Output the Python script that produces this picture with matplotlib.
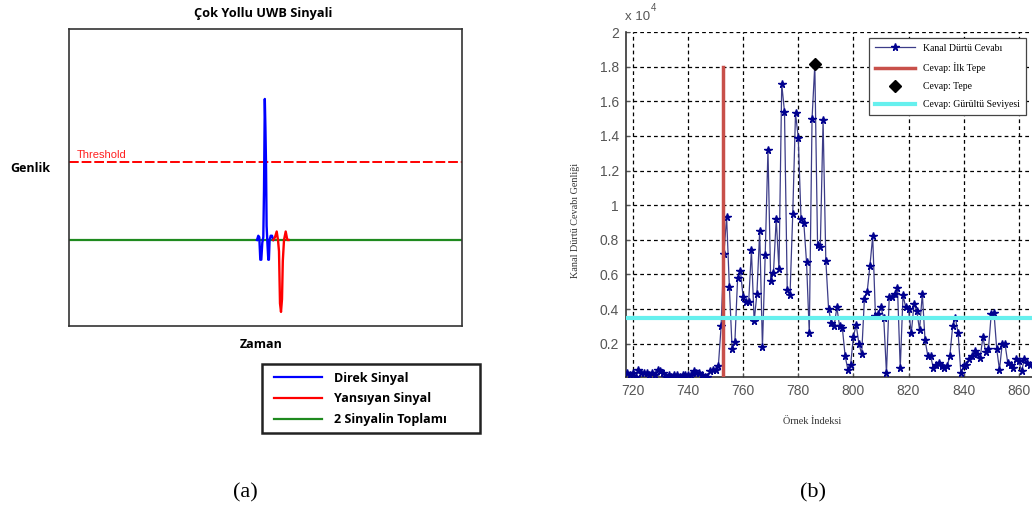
import numpy as np
import matplotlib
matplotlib.use("Agg")
import matplotlib.pyplot as plt
from matplotlib.lines import Line2D
from matplotlib.patches import Rectangle

# ---------------- Panel (a) data ----------------
title_a = "Çok Yollu UWB Sinyali"
blue_t = [188.0, 189.3, 190.3, 191.3, 192.3, 193.3, 194.3, 195.0, 195.8, 196.4,
          197.0, 197.6, 198.4, 199.3, 199.9, 200.6, 201.7, 203.0, 204.3]
blue_a = [0.0, 0.03, 0.02, -0.14, -0.14, -0.02, 0.02, 0.35, 1.0, 0.80,
          0.55, 0.10, -0.02, -0.14, -0.14, 0.0, 0.03, 0.03, 0.0]
red_t = [204.3, 206.0, 207.7, 209.0, 210.0, 211.0, 212.0, 213.0, 213.8, 215.0,
         216.7, 218.3, 219.5]
red_a = [0.0, 0.02, 0.06, 0.0, -0.08, -0.45, -0.51, -0.42, -0.15, 0.0,
         0.06, 0.0, 0.0]
green_t = [0.0, 393.0]
green_a = [0.0, 0.0]
threshold = 0.55
legend_a = ["Direk Sinyal", "Yansıyan Sinyal", "2 Sinyalin Toplamı"]

# ---------------- Panel (b) data ----------------
sample_idx = np.arange(718, 865)
impulse = [0.03, 0.02, 0.03, 0.01, 0.05, 0.03, 0.03, 0.03, 0.02, 0.03,
           0.02, 0.05, 0.04, 0.03, 0.01, 0.02, 0.01, 0.02, 0.02, 0.01,
           0.02, 0.02, 0.02, 0.02, 0.04, 0.03, 0.03, 0.02, 0.01, 0.01,
           0.04, 0.05, 0.05, 0.07, 0.30, 0.72, 0.93, 0.53, 0.17, 0.21,
           0.58, 0.62, 0.47, 0.44, 0.44, 0.74, 0.33, 0.49, 0.85, 0.18,
           0.71, 1.32, 0.56, 0.61, 0.92, 0.63, 1.70, 1.54, 0.51, 0.48,
           0.95, 1.53, 1.39, 0.92, 0.90, 0.67, 0.26, 1.50, 1.81, 0.77,
           0.76, 1.49, 0.68, 0.40, 0.32, 0.30, 0.41, 0.30, 0.29, 0.13,
           0.05, 0.08, 0.24, 0.31, 0.20, 0.14, 0.46, 0.50, 0.65, 0.82,
           0.36, 0.37, 0.41, 0.35, 0.03, 0.47, 0.47, 0.49, 0.52, 0.06,
           0.48, 0.41, 0.40, 0.26, 0.43, 0.39, 0.28, 0.49, 0.22, 0.13,
           0.13, 0.06, 0.08, 0.09, 0.07, 0.06, 0.07, 0.13, 0.30, 0.35,
           0.26, 0.03, 0.07, 0.08, 0.11, 0.13, 0.16, 0.14, 0.12, 0.24,
           0.15, 0.17, 0.37, 0.38, 0.17, 0.05, 0.20, 0.20, 0.09, 0.08,
           0.06, 0.11, 0.10, 0.04, 0.11, 0.09, 0.08]
first_peak_x = 752.7
first_peak_top = 1.8
peak_x = 786
peak_y = 1.815
noise_level = 0.35
x_ticks_b = [720, 740, 760, 780, 800, 820, 840, 860]
y_ticks_b = [0.2, 0.4, 0.6, 0.8, 1.0, 1.2, 1.4, 1.6, 1.8, 2.0]
y_ticklabels_b = ["0.2", "0.4", "0.6", "0.8", "1", "1.2", "1.4", "1.6", "1.8", "2"]
legend_b = ["Kanal Dürtü Cevabı", "Cevap: İlk Tepe", "Cevap: Tepe", "Cevap: Gürültü Seviyesi"]

W, H = 1032, 518
fig = plt.figure(figsize=(W / 100, H / 100), dpi=100)
fig.patch.set_facecolor("white")

def fx(px):
    return px / W

def fy(py):
    return 1 - py / H

sans_b = ["Open Sans", "DejaVu Sans"]
serif = ["Liberation Serif", "DejaVu Serif"]

# ---------------- Panel (a) ----------------
ax_a = fig.add_axes([fx(69), fy(326), 393 / W, 297 / H])
ax_a.plot(green_t, green_a, color="#1f8a1f", lw=1.6, zorder=2)
ax_a.plot(blue_t, blue_a, color="#0000ff", lw=1.7, zorder=3)
ax_a.plot(red_t, red_a, color="#ff0000", lw=1.7, zorder=3)
ax_a.axhline(threshold, color="#ff0000", lw=1.4, ls=(0, (5, 1.5)), zorder=2)
ax_a.text(8, threshold + 0.015, "Threshold", color="#ff2020", fontsize=8,
          family=["Liberation Sans", "DejaVu Sans"], va="bottom", ha="left")
ax_a.set_xlim(0, 393)
ax_a.set_ylim(-0.61, 1.496)
ax_a.set_xticks([])
ax_a.set_yticks([])
for s in ax_a.spines.values():
    s.set_color("#333333")
    s.set_linewidth(1.2)

fig.text(fx(263), fy(14), title_a, ha="center", va="center", fontsize=9.2,
         fontweight="bold", family=sans_b)
fig.text(fx(10), fy(168), "Genlik", ha="left", va="center", fontsize=9,
         fontweight="bold", family=sans_b)
fig.text(fx(261), fy(344), "Zaman", ha="center", va="center", fontsize=9,
         fontweight="bold", family=sans_b)

# legend (a)
fig.patches.append(Rectangle((fx(262), fy(433)), 218 / W, 69 / H,
                             transform=fig.transFigure, fill=True,
                             facecolor="white", edgecolor="#222222", lw=1.8))
handles_a = [Line2D([], [], color="#0000ff", lw=1.6),
             Line2D([], [], color="#ff0000", lw=1.6),
             Line2D([], [], color="#1f8a1f", lw=1.6)]
leg_a = fig.legend(handles_a, legend_a, loc="upper left",
                   bbox_to_anchor=(fx(263), fy(361)), frameon=False,
                   prop={"family": sans_b, "weight": "bold", "size": 9},
                   handlelength=3.9, handletextpad=0.9, labelspacing=0.62,
                   borderpad=0.35)

# ---------------- Panel (b) ----------------
ax_b = fig.add_axes([fx(626), fy(377), 406 / W, 345 / H])
ax_b.plot(sample_idx, impulse, color="#3c3c88", lw=0.9, marker="*",
          markersize=5.5, markerfacecolor="#00008f", markeredgecolor="#00008f",
          zorder=3, label=legend_b[0])
ax_b.plot([first_peak_x, first_peak_x], [0, first_peak_top], color="#c8504a",
          lw=2.5, zorder=4, label=legend_b[1])
ax_b.plot([peak_x], [peak_y], ls="none", marker="D", markersize=6.5,
          color="black", zorder=5, label=legend_b[2])
ax_b.axhline(noise_level, color="#66f0ee", lw=3, zorder=4, label=legend_b[3])

ax_b.set_xlim(717.5, 864.8)
ax_b.set_ylim(0.008, 2.0)
ax_b.set_xticks(x_ticks_b)
ax_b.set_yticks(y_ticks_b)
ax_b.set_yticklabels(y_ticklabels_b)
ax_b.grid(True, color="black", ls=(0, (3, 2.5)), lw=0.9)
ax_b.tick_params(direction="in", length=3, colors="#555555", labelsize=10,
                 pad=5)
for lab in ax_b.get_xticklabels() + ax_b.get_yticklabels():
    lab.set_family(["Liberation Sans", "DejaVu Sans"])
ax_b.spines["top"].set_visible(False)
ax_b.spines["right"].set_visible(False)
ax_b.spines["left"].set_color("#333333")
ax_b.spines["bottom"].set_color("#333333")
ax_b.spines["left"].set_linewidth(1.2)
ax_b.spines["bottom"].set_linewidth(1.2)

fig.text(fx(625), fy(17), "x 10", color="#555555", fontsize=9.5,
         family=["Liberation Sans", "DejaVu Sans"], ha="left", va="center")
fig.text(fx(651), fy(8), "4", color="#555555", fontsize=7,
         family=["Liberation Sans", "DejaVu Sans"], ha="left", va="center")

ax_b.set_ylabel("Kanal Dürtü Cevabı Genliği", family=serif, fontsize=7.3,
                color="#333333")
ax_b.yaxis.set_label_coords(-0.113, 0.455)
ax_b.set_xlabel("Örnek İndeksi", family=serif, fontsize=7.4, color="#333333")
ax_b.xaxis.set_label_coords(0.458, -0.116)

leg_b = ax_b.legend(loc="upper right", bbox_to_anchor=(0.985, 0.983),
                    borderaxespad=0, prop={"family": serif, "size": 7},
                    handlelength=4.2, handletextpad=0.8, labelspacing=0.95,
                    borderpad=0.6, fancybox=False, framealpha=1,
                    edgecolor="#444444", numpoints=1)
leg_b.get_frame().set_linewidth(0.9)

fig.text(fx(245), fy(493), "(a)", ha="center", va="center", fontsize=16,
         family=serif)
fig.text(fx(813), fy(493), "(b)", ha="center", va="center", fontsize=16,
         family=serif)

fig.savefig("out.png", dpi=100)
